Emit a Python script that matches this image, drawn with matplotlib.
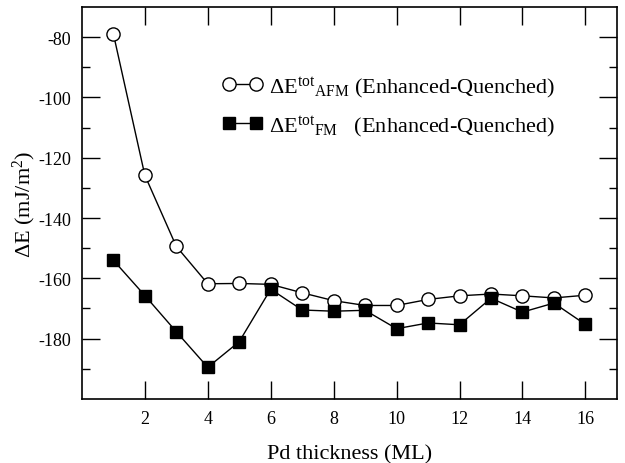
import numpy as np
import matplotlib
matplotlib.use('Agg')
import matplotlib.pyplot as plt

plt.rcParams['font.family'] = ['Liberation Serif', 'DejaVu Serif']
plt.rcParams['mathtext.fontset'] = 'custom'
plt.rcParams['mathtext.rm'] = 'Liberation Serif'
plt.rcParams['mathtext.it'] = 'Liberation Serif:italic'
plt.rcParams['axes.unicode_minus'] = False

# Data
thickness = [1, 2, 3, 4, 5, 6, 7, 8, 9, 10, 11, 12, 13, 14, 15, 16]
afm = [-78.9, -125.8, -149.4, -161.8, -161.7, -162.0, -164.8, -167.4,
       -169.0, -169.0, -167.0, -165.8, -165.2, -165.8, -166.5, -165.6]
fm = [-154.0, -165.7, -177.7, -189.5, -181.0, -163.6, -170.5, -170.9,
      -170.6, -176.7, -174.8, -175.4, -166.6, -171.2, -168.2, -175.3]

fig = plt.figure(figsize=(6.25, 4.64), dpi=100)
ax = fig.add_axes([0.131, 0.138, 0.856, 0.845])

ax.plot(thickness, afm, 'k-', lw=1, marker='o', ms=9.5, mfc='white',
        mec='black', mew=1,
        label=r'$\Delta\mathrm{E}^{\mathrm{tot}}{}_{\mathrm{AFM}}$ (Enhanced-Quenched)')
ax.plot(thickness, fm, 'k-', lw=1, marker='s', ms=9, mfc='black',
        mec='black',
        label=r'$\Delta\mathrm{E}^{\mathrm{tot}}{}_{\mathrm{FM}}$   (Enhanced-Quenched)')

ax.set_xlim(0, 17)
ax.set_ylim(-200, -70)
ax.set_xticks(np.arange(2, 17, 2))
ax.set_yticks(np.arange(-180, -70, 20))
ax.set_yticks(np.arange(-190, -70, 10), minor=True)
ax.tick_params(which='both', direction='in', top=True, right=True,
               labelsize=13, pad=8)
ax.tick_params(which='major', length=13, width=1)
ax.tick_params(which='minor', length=6, width=1)
for s in ax.spines.values():
    s.set_linewidth(1.2)

ax.set_xlabel('Pd thickness (ML)', fontsize=16, labelpad=12)
ax.set_ylabel(r'$\Delta$E (mJ/m$^2$)', fontsize=16, labelpad=0)

ax.legend(loc='upper left', bbox_to_anchor=(0.226, 0.88), frameon=False,
          numpoints=2, handlelength=1.8, fontsize=16, labelspacing=0.6,
          handletextpad=0.3)

fig.savefig('out.png', dpi=100)
